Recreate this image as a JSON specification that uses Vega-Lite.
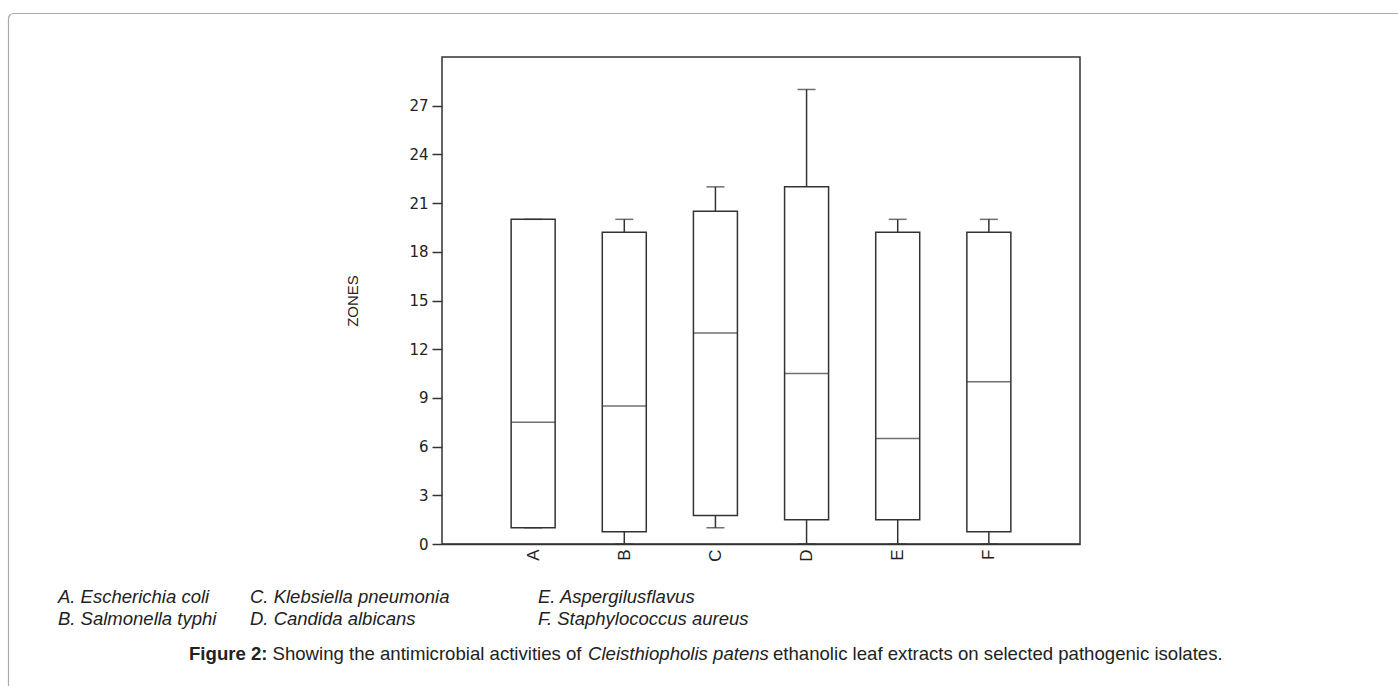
{
  "$schema": "https://vega.github.io/schema/vega-lite/v6.json",
  "width": 638,
  "height": 487,
  "autosize": "none",
  "padding": {"left": 442, "top": 57, "right": 318, "bottom": 142},
  "background": "white",
  "config": {
    "view": {"stroke": "#333333", "strokeWidth": 1.5},
    "font": "Liberation Sans"
  },
  "datasets": {
    "boxes": [
      {"isolate": "A", "min": 1, "q1": 1, "median": 7.5, "q3": 20, "max": 20},
      {"isolate": "B", "min": 0, "q1": 0.75, "median": 8.5, "q3": 19.2, "max": 20},
      {"isolate": "C", "min": 1, "q1": 1.75, "median": 13, "q3": 20.5, "max": 22},
      {"isolate": "D", "min": 0, "q1": 1.5, "median": 10.5, "q3": 22, "max": 28},
      {"isolate": "E", "min": 0, "q1": 1.5, "median": 6.5, "q3": 19.2, "max": 20},
      {"isolate": "F", "min": 0, "q1": 0.75, "median": 10, "q3": 19.2, "max": 20}
    ],
    "key": [
      {"label": "A. Escherichia coli", "col": 0, "row": 0},
      {"label": "B. Salmonella typhi", "col": 0, "row": 1},
      {"label": "C. Klebsiella pneumonia", "col": 1, "row": 0},
      {"label": "D. Candida albicans", "col": 1, "row": 1},
      {"label": "E. Aspergilusflavus", "col": 2, "row": 0},
      {"label": "F. Staphylococcus aureus", "col": 2, "row": 1}
    ],
    "caption": [
      {"piece": 0, "line": 0, "text": "Figure 2:"},
      {"piece": 1, "line": 0, "text": "Showing the antimicrobial activities of"},
      {"piece": 2, "line": 0, "text": "Cleisthiopholis patens"},
      {"piece": 3, "line": 0, "text": "ethanolic leaf extracts on selected pathogenic isolates."}
    ],
    "page": [{"frame": "page"}]
  },
  "layer": [
    {
      "data": {"name": "boxes"},
      "encoding": {
        "x": {
          "field": "isolate",
          "type": "nominal",
          "scale": {"type": "point", "padding": 1},
          "axis": {
            "title": null,
            "ticks": false,
            "domain": true,
            "domainColor": "#333333",
            "domainWidth": 1.5,
            "labelAngle": 270,
            "labelPadding": 5,
            "labelFont": "Liberation Sans Narrow, Liberation Sans",
            "labelFontSize": 17,
            "labelColor": "#222222"
          }
        }
      },
      "layer": [
        {
          "mark": {"type": "rule", "color": "#333333", "strokeWidth": 1.5},
          "encoding": {
            "y": {
              "field": "min",
              "type": "quantitative",
              "scale": {"domain": [0, 30], "nice": false, "zero": true},
              "axis": {
                "title": "ZONES",
                "values": [0, 3, 6, 9, 12, 15, 18, 21, 24, 27],
                "grid": false,
                "domain": false,
                "tickSize": 10,
                "tickColor": "#333333",
                "tickWidth": 1.5,
                "labelPadding": 4,
                "labelFont": "DejaVu Sans",
                "labelFontSize": 15,
                "labelColor": "#222222",
                "titleFont": "Liberation Sans Narrow, Liberation Sans",
                "titleFontSize": 15,
                "titleFontWeight": "normal",
                "titleColor": "#222222",
                "titlePadding": 48
              }
            },
            "y2": {"field": "q1"}
          }
        },
        {
          "mark": {"type": "rule", "color": "#333333", "strokeWidth": 1.5},
          "encoding": {
            "y": {"field": "q3", "type": "quantitative"},
            "y2": {"field": "max"}
          }
        },
        {
          "mark": {"type": "bar", "size": 44, "fill": "white", "stroke": "#333333", "strokeWidth": 1.5},
          "encoding": {
            "y": {"field": "q1", "type": "quantitative"},
            "y2": {"field": "q3"}
          }
        },
        {
          "mark": {"type": "tick", "size": 44, "thickness": 1.5, "color": "#333333"},
          "encoding": {"y": {"field": "median", "type": "quantitative"}}
        },
        {
          "mark": {"type": "tick", "size": 18, "thickness": 1.5, "color": "#333333"},
          "encoding": {"y": {"field": "max", "type": "quantitative"}}
        },
        {
          "mark": {"type": "tick", "size": 18, "thickness": 1.5, "color": "#333333"},
          "encoding": {"y": {"field": "min", "type": "quantitative"}}
        }
      ]
    },
    {
      "data": {"name": "key"},
      "mark": {"type": "text", "align": "left", "baseline": "alphabetic", "fontStyle": "italic", "fontSize": 18.5, "font": "Liberation Sans", "color": "#222222"},
      "encoding": {
        "x": {"field": "col", "type": "quantitative", "scale": {"domain": [0, 1, 2], "range": [-384, -192, 96], "nice": false, "zero": false}, "axis": null},
        "y": {"field": "row", "type": "quantitative", "scale": {"domain": [0, 1], "range": [546, 568], "nice": false, "zero": false}, "axis": null},
        "text": {"field": "label"}
      }
    },
    {
      "data": {"name": "caption"},
      "encoding": {
        "x": {"field": "piece", "type": "quantitative", "scale": {"domain": [0, 1, 2, 3], "range": [-253, -169.5, 146, 331], "nice": false, "zero": false}, "axis": null},
        "y": {"field": "line", "type": "quantitative", "scale": {"domain": [0, 1], "range": [603, 625], "nice": false, "zero": false}, "axis": null},
        "text": {"field": "text"}
      },
      "layer": [
        {
          "transform": [{"filter": "datum.piece == 0"}],
          "mark": {"type": "text", "align": "left", "baseline": "alphabetic", "fontWeight": "bold", "fontSize": 18.6, "font": "Liberation Sans", "color": "#222222"}
        },
        {
          "transform": [{"filter": "datum.piece == 1 || datum.piece == 3"}],
          "mark": {"type": "text", "align": "left", "baseline": "alphabetic", "fontSize": 18.6, "font": "Liberation Sans", "color": "#222222"}
        },
        {
          "transform": [{"filter": "datum.piece == 2"}],
          "mark": {"type": "text", "align": "left", "baseline": "alphabetic", "fontStyle": "italic", "fontSize": 18.6, "font": "Liberation Sans", "color": "#222222"}
        }
      ]
    },
    {
      "data": {"name": "page"},
      "mark": {"type": "rect", "fill": "transparent", "stroke": "#aaaaaa", "strokeWidth": 1.2, "cornerRadius": 5},
      "encoding": {
        "x": {"datum": 0, "type": "quantitative", "scale": {"domain": [0, 1], "range": [-433.5, 970], "nice": false, "zero": false}, "axis": null},
        "x2": {"datum": 1},
        "y": {"datum": 0, "type": "quantitative", "scale": {"domain": [0, 1], "range": [-43.5, 640], "nice": false, "zero": false}, "axis": null},
        "y2": {"datum": 1}
      }
    }
  ],
  "resolve": {"scale": {"x": "independent", "y": "independent"}}
}
